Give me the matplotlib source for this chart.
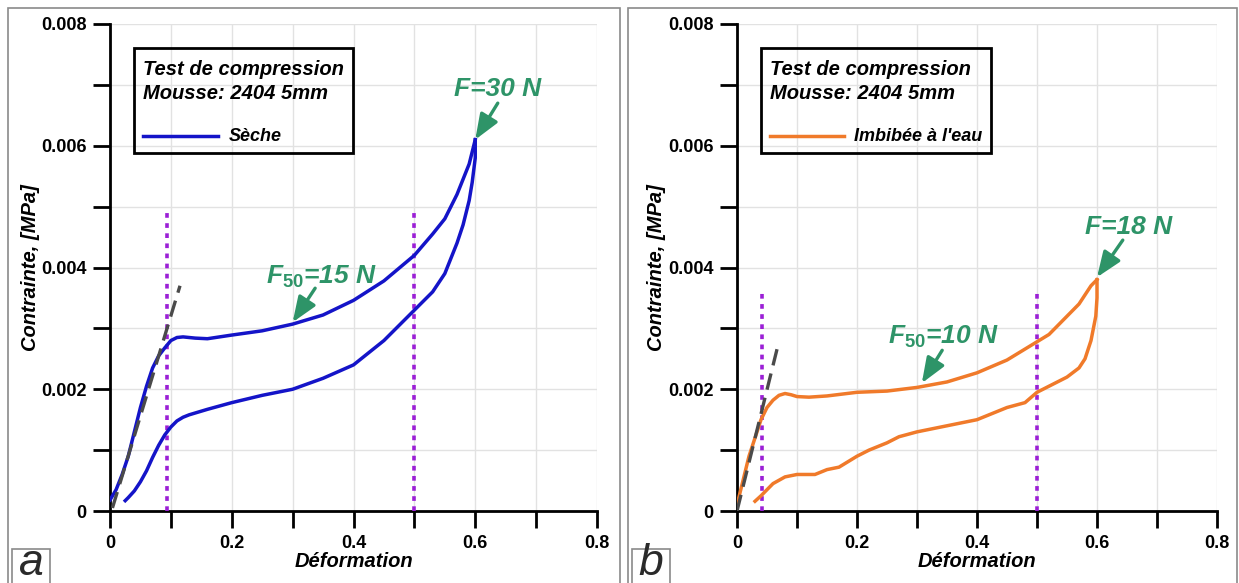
import numpy as np
import matplotlib
matplotlib.use("Agg")
import matplotlib.pyplot as plt
from matplotlib.patches import Rectangle
from matplotlib.ticker import MultipleLocator

plt.rcParams['font.family'] = ['Liberation Sans', 'DejaVu Sans']
plt.rcParams['mathtext.fontset'] = 'custom'
plt.rcParams['mathtext.it'] = 'Liberation Sans:italic:bold'
plt.rcParams['mathtext.rm'] = 'Liberation Sans:bold'

# ---- data ----
# a : mousse seche
a_load_x = [0.0, 0.01, 0.02, 0.03, 0.04, 0.05, 0.06, 0.07, 0.08, 0.09, 0.10, 0.11, 0.12, 0.14, 0.16,
            0.20, 0.25, 0.30, 0.35, 0.40, 0.45, 0.50, 0.53, 0.55, 0.57, 0.59, 0.60]
a_load_y = [0.00018, 0.00035, 0.0006, 0.0009, 0.0013, 0.0017, 0.00205, 0.00235, 0.00255, 0.00268, 0.0028,
            0.00285, 0.00286, 0.00284, 0.00283, 0.00289, 0.00296, 0.00307, 0.00322, 0.00346, 0.00378,
            0.0042, 0.00455, 0.0048, 0.0052, 0.0057, 0.0061]
a_unload_x = [0.60, 0.60, 0.595, 0.59, 0.58, 0.57, 0.55, 0.53, 0.50, 0.45, 0.40, 0.35, 0.30, 0.25, 0.20,
              0.16, 0.13, 0.12, 0.11, 0.10, 0.09, 0.08, 0.07, 0.06, 0.05, 0.04, 0.03, 0.025]
a_unload_y = [0.0061, 0.0058, 0.0054, 0.0051, 0.0047, 0.0044, 0.0039, 0.0036, 0.0033, 0.0028, 0.0024,
              0.00218, 0.002, 0.0019, 0.00178, 0.00167, 0.00158, 0.00154, 0.00148, 0.00138, 0.00125,
              0.00108, 0.00088, 0.00066, 0.00048, 0.00033, 0.00022, 0.00017]
a_fit_x = [0.004, 0.115]
a_fit_y = [0.00005, 0.0037]
a_vlines = [0.093, 0.5]
a_vtop = 0.0049

# b : mousse imbibee a l'eau
b_load_x = [0.0, 0.01, 0.02, 0.03, 0.04, 0.05, 0.06, 0.07, 0.08, 0.09, 0.10, 0.12, 0.15, 0.20, 0.25,
            0.30, 0.35, 0.40, 0.45, 0.50, 0.52, 0.55, 0.57, 0.59, 0.60]
b_load_y = [0.0001, 0.0005, 0.0009, 0.0012, 0.0015, 0.0017, 0.00182, 0.0019, 0.00193, 0.00191, 0.00188,
            0.00187, 0.00189, 0.00195, 0.00197, 0.00203, 0.00212, 0.00227, 0.00248, 0.00278, 0.0029,
            0.0032, 0.0034, 0.0037, 0.0038]
b_unload_x = [0.60, 0.60, 0.598, 0.59, 0.58, 0.57, 0.55, 0.52, 0.50, 0.48, 0.45, 0.40, 0.35, 0.30, 0.27,
              0.25, 0.22, 0.20, 0.17, 0.15, 0.13, 0.10, 0.08, 0.06, 0.05, 0.04, 0.03]
b_unload_y = [0.0038, 0.0035, 0.0032, 0.0028, 0.0025, 0.00235, 0.0022, 0.00205, 0.00195, 0.00178, 0.0017,
              0.0015, 0.0014, 0.0013, 0.00122, 0.00112, 0.001, 0.0009, 0.00072, 0.00068, 0.0006, 0.0006,
              0.00056, 0.00045, 0.00035, 0.00025, 0.00016]
b_fit_x = [0.0, 0.067]
b_fit_y = [0.0, 0.00267]
b_vlines = [0.042, 0.5]
b_vtop = 0.0036

green = '#2e9468'
blue = '#1414c8'
orange = '#f07a2a'

W, H = 1239, 583
fig = plt.figure(figsize=(W / 100, H / 100), dpi=100)

# panel frames
for x0, x1 in [(8, 620), (628, 1237)]:
    fig.patches.append(Rectangle((x0 / W, -0.01), (x1 - x0) / W, (H - 8) / H + 0.01,
                                 transform=fig.transFigure, fill=False, ec='#8a8a8a', lw=1.2))


def panel(left, right, lx, ly, ux, uy, fx, fy, vl, vtop, color, label, legw, texts, letter_x, letter):
    ax = fig.add_axes([left / W, (H - 511) / H, (right - left) / W, 487 / H])
    ax.plot(lx, ly, color=color, lw=2.5, zorder=4)
    ax.plot(ux, uy, color=color, lw=2.5, zorder=4)
    ax.plot(fx, fy, color='#4a4a4a', lw=2.4, ls=(0, (5, 2.5)), zorder=5)
    for v in vl:
        ax.plot([v, v], [0, vtop], color='#9b1fd6', lw=2.6, ls=(0, (1.3, 1.5)), zorder=3)
    ax.set_xlim(0, 0.8)
    ax.set_ylim(0, 0.008)
    ax.xaxis.set_minor_locator(MultipleLocator(0.1))
    ax.yaxis.set_minor_locator(MultipleLocator(0.001))
    ax.set_xticks([0, 0.2, 0.4, 0.6, 0.8])
    ax.set_xticklabels(['0', '0.2', '0.4', '0.6', '0.8'])
    ax.set_yticks([0, 0.002, 0.004, 0.006, 0.008])
    ax.set_yticklabels(['0', '0.002', '0.004', '0.006', '0.008'])
    ax.grid(which='both', color='#e2e2e2', lw=1)
    ax.set_axisbelow(True)
    for s in ['top', 'right']:
        ax.spines[s].set_visible(False)
    for s in ['left', 'bottom']:
        ax.spines[s].set_linewidth(2)
    ax.tick_params(which='both', direction='out', length=12, width=2, labelsize=13, pad=5)
    for t in ax.get_xticklabels() + ax.get_yticklabels():
        t.set_fontweight('bold')
    ax.set_xlabel('Déformation', fontsize=14.5, fontweight='bold', fontstyle='italic', labelpad=0)
    ax.set_ylabel('Contrainte, [MPa]', fontsize=14.5, fontweight='bold', fontstyle='italic', labelpad=1)

    # legend box
    ax.add_patch(Rectangle((0.049, 0.735), legw, 0.216, transform=ax.transAxes, fill=False,
                           ec='black', lw=2, zorder=6))
    ax.text(0.068, 0.906, 'Test de compression', transform=ax.transAxes, fontsize=14.5,
            fontweight='bold', fontstyle='italic', va='center')
    ax.text(0.068, 0.858, 'Mousse: 2404 5mm', transform=ax.transAxes, fontsize=14.5,
            fontweight='bold', fontstyle='italic', va='center')
    ax.plot([0.068, 0.222], [0.770, 0.770], transform=ax.transAxes, color=color, lw=2.5)
    ax.text(0.243, 0.770, label, transform=ax.transAxes, fontsize=13,
            fontweight='bold', fontstyle='italic', va='center')

    arr = dict(arrowstyle='-|>,head_length=1.4,head_width=0.55', color=green, lw=2.4,
               shrinkA=0, shrinkB=0, mutation_scale=11)
    for txt, txy, tail, tip in texts:
        ax.text(txy[0], txy[1], txt, color=green, fontsize=19, fontweight='bold', fontstyle='italic',
                ha='center', va='center', zorder=7)
        ax.annotate('', xy=tip, xytext=tail, arrowprops=arr, zorder=7)

    # panel letter in its small box
    fig.patches.append(Rectangle(((letter_x - 19) / W, -0.01), 38 / W, 40 / H,
                                 transform=fig.transFigure, fc='white', ec='#8a8a8a', lw=1.2))
    fig.text(letter_x / W, 8 / H, letter, fontsize=32, fontstyle='italic', color='#2a2a2a',
             ha='center', va='baseline')
    return ax


a_texts = [('F=30 N', (0.637, 0.00693), (0.637, 0.0067), (0.6, 0.0061)),
           (r'F$_{\mathit{50}}$=15 N', (0.348, 0.00385), (0.337, 0.00366), (0.30, 0.0031))]
b_texts = [('F=18 N', (0.652, 0.00466), (0.643, 0.00445), (0.6, 0.00384)),
           (r'F$_{\mathit{50}}$=10 N', (0.345, 0.00286), (0.342, 0.00264), (0.308, 0.0021))]

panel(110, 597, a_load_x, a_load_y, a_unload_x, a_unload_y, a_fit_x, a_fit_y, a_vlines, a_vtop,
      blue, 'Sèche', 0.45, a_texts, 31, 'a')
panel(737, 1217, b_load_x, b_load_y, b_unload_x, b_unload_y, b_fit_x, b_fit_y, b_vlines, b_vtop,
      orange, "Imbibée à l'eau", 0.48, b_texts, 651, 'b')

fig.savefig('out.png', dpi=100)
